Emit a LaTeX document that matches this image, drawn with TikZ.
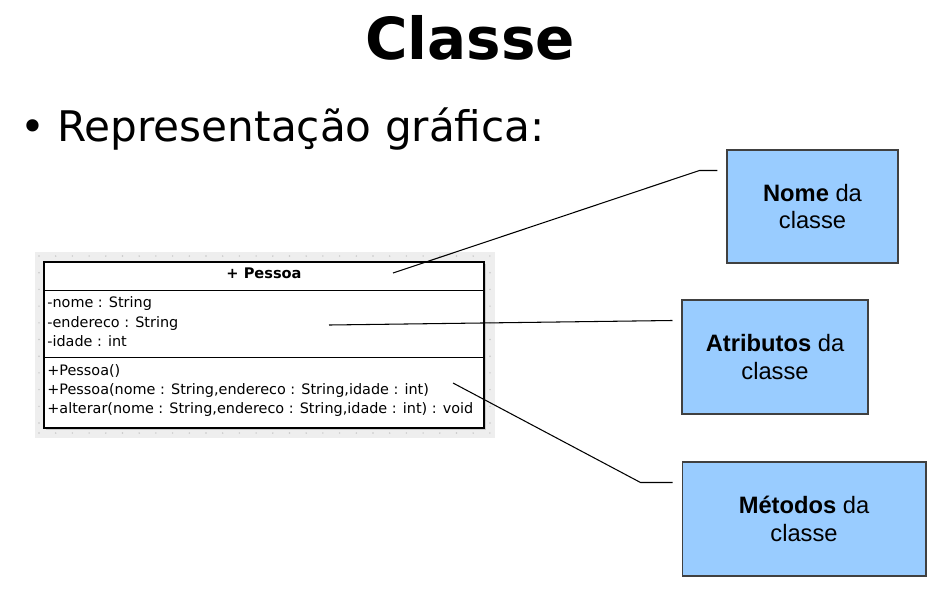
\documentclass[tikz,border=0pt]{standalone}
\usepackage{fontspec}
\setmainfont{DejaVu Sans}
\newfontfamily\boxfont{Liberation Sans}
\usetikzlibrary{calc}
\definecolor{notablue}{HTML}{99CCFF}
\definecolor{fundo}{HTML}{EEEEEE}

\begin{document}
\begin{tikzpicture}[x=0.02cm,y=-0.02cm,
    nota/.style={draw=black!75,fill=notablue,line width=0.6pt,align=center,
        font=\boxfont\fontsize{13.5}{15.5}\selectfont},
    membro/.style={anchor=base west,inner sep=0pt,font=\fontsize{8.2}{10}\selectfont},
    liga/.style={line width=0.6pt}]
        \useasboundingbox (0,0) rectangle (940,600);
        \node[anchor=base,font=\fontsize{33}{40}\selectfont\bfseries] (titulo) at (470,59) {Classe};
        \node[anchor=base,font=\fontsize{24}{29}\selectfont] (marca) at (33,141) {•};
        \node[anchor=base west,inner sep=0pt,font=\fontsize{24}{29}\selectfont] (subtitulo) at (57,141) {Representação gráfica:};
        \fill[fundo] (35,252) rectangle (495,438);
        \foreach \i in {0,...,27} {
            \fill[black!22] (39+16.7*\i,256) circle (0.8);
            \fill[black!22] (39+16.7*\i,433) circle (0.8);
        }
        \foreach \j in {1,...,10} {
            \fill[black!22] (39,256+16.7*\j) circle (0.8);
            \fill[black!22] (490,256+16.7*\j) circle (0.8);
        }
        \fill[black!20] (46,264) rectangle (486,430);
        \node[draw,fill=white,line width=0.65pt,minimum width=8.8cm,minimum height=3.32cm,inner sep=0pt] (pessoa) at (264,345) {};
        \draw[line width=0.65pt] ($(pessoa.north west)+(0,29)$) -- ($(pessoa.north east)+(0,29)$);
        \draw[line width=0.65pt] ($(pessoa.north west)+(0,96)$) -- ($(pessoa.north east)+(0,96)$);
        \node[anchor=base,inner sep=0pt,font=\fontsize{8.3}{10}\selectfont\bfseries] (nomeclasse) at (264,278) {+ Pessoa};
        \node[membro] (atr1) at (47,307) {-nome : String};
        \node[membro] (atr2) at (47,327) {-endereco : String};
        \node[membro] (atr3) at (47,346) {-idade : int};
        \node[membro] (met1) at (47,375) {+Pessoa()};
        \node[membro] (met2) at (47,394) {+Pessoa(nome : String,endereco : String,idade : int)};
        \node[membro] (met3) at (47,413) {+alterar(nome : String,endereco : String,idade : int) : void};
        \node[nota,minimum width=3.42cm,minimum height=2.26cm] (nome) at (812.5,206.5) {\textbf{Nome} da\\classe};
        \node[nota,minimum width=3.72cm,minimum height=2.28cm] (atributos) at (775,357) {\textbf{Atributos} da\\classe};
        \node[nota,minimum width=4.88cm,minimum height=2.28cm] (metodos) at (804,519) {\textbf{Métodos} da\\classe};
        \coordinate (nomeptr) at (393,273);
        \coordinate (atrptr) at (329,325);
        \coordinate (metptr) at (453,383);
        \coordinate (nomeend) at ($(nome.north west)+(-9,21)$);
        \coordinate (atrend) at ($(atributos.north west)+(-9,21)$);
        \coordinate (metend) at ($(metodos.north west)+(-9,21)$);
        \draw[liga] (nomeptr) -- ($(nomeend)+(-18,0)$) -- (nomeend);
        \draw[liga] (atrptr) -- (atrend);
        \draw[liga] (metptr) -- ($(metend)+(-32,0)$) -- (metend);
    \end{tikzpicture}
\end{document}
